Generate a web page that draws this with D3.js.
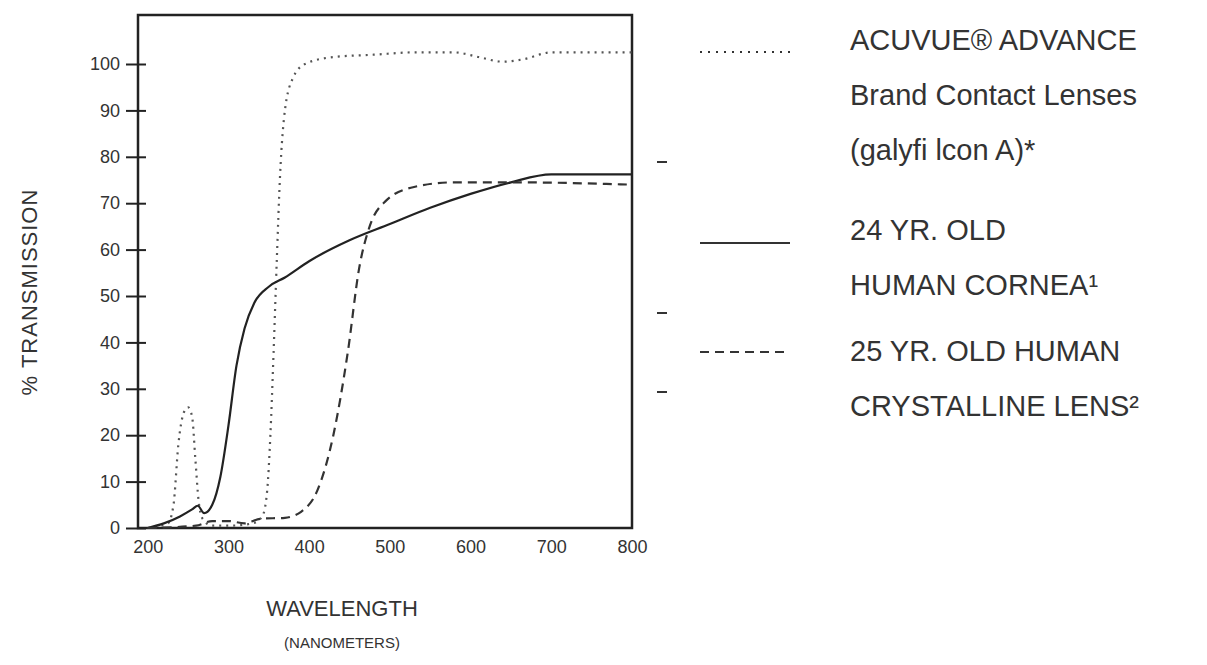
<!DOCTYPE html><html><head><meta charset="utf-8">
<script src="https://cdn.jsdelivr.net/npm/d3@7"></script>
<style>body{margin:0;background:#fff}text{font-family:"Liberation Sans",Arial,sans-serif;fill:#333}</style></head><body>
<svg id="c" width="1207" height="665"></svg>
<script>
const xTicks=[200,300,400,500,600,700,800];
const yTicks=[0,10,20,30,40,50,60,70,80,90,100];
const acuvue=[[200,0],[225,1],[232,5],[238,18],[245,25],[250,26],[255,24],[259,15],[263,6],[268,2],[280,0.5],[300,0.5],[330,1],[342,2.5],[348,8],[352,20],[356,38],[360,58],[364,76],[370,90],[380,97],[395,100],[430,101.5],[480,102],[530,102.5],[580,102.5],[610,101.5],[640,100.5],[665,101],[700,102.5],[800,102.5]];
const cornea=[[200,0],[220,1],[240,2.5],[255,4],[262,4.8],[270,3.2],[280,5],[290,11],[300,22],[310,35],[320,43],[332,48.5],[350,52],[370,54],[400,57.5],[450,62],[500,65.5],[550,69],[600,72],[650,74.5],[700,76.2],[800,76.2]];
const lens=[[200,0],[260,0.5],[280,1.5],[300,1.5],[320,1],[340,2],[370,2.2],[390,3.5],[410,8],[430,20],[448,38],[462,56],[475,65],[495,70.5],[530,73.5],[580,74.5],[650,74.5],[800,74]];
const legend=[{t:["ACUVUE® ADVANCE","Brand Contact Lenses","(galyfi lcon A)*"],y:42,ly:52,d:"2,6"},
{t:["24 YR. OLD","HUMAN CORNEA¹"],y:232,ly:243,d:null},
{t:["25 YR. OLD HUMAN","CRYSTALLINE LENS²"],y:353,ly:352,d:"9,6"}];
const svg=d3.select("#c");
const x=d3.scaleLinear().domain([188,800]).range([138,632]);
const y=d3.scaleLinear().domain([0,100]).range([528,64]);
svg.append("rect").attr("x",138).attr("y",15).attr("width",494).attr("height",513).attr("fill","none").attr("stroke","#222").attr("stroke-width",2.5);
const ya=svg.append("g").attr("transform","translate(138,0)").call(d3.axisLeft(y).tickValues(yTicks).tickSize(0).tickPadding(18));
ya.select(".domain").remove();
ya.selectAll(".tick line").attr("x1",-12).attr("x2",8).attr("stroke","#222").attr("stroke-width",2);
ya.selectAll("text").style("font-size","18px");
const xa=svg.append("g").attr("transform","translate(0,528)").call(d3.axisBottom(x).tickValues(xTicks).tickSize(0).tickPadding(12));
xa.select(".domain").remove();xa.selectAll("text").style("font-size","18px");
const line=d3.line().x(d=>x(d[0])).y(d=>y(d[1])).curve(d3.curveMonotoneX);
[[acuvue,"2,5",2.2,"#555"],[cornea,null,2.2,"#222"],[lens,"9,6",2.2,"#333"]].forEach(([dt,da,w,c])=>{
 svg.append("path").attr("d",line(dt)).attr("fill","none").attr("stroke",c).attr("stroke-width",w).attr("stroke-dasharray",da);});
legend.forEach(l=>{
 svg.append("line").attr("x1",700).attr("x2",790).attr("y1",l.ly).attr("y2",l.ly).attr("stroke","#333").attr("stroke-width",2).attr("stroke-dasharray",l.d);
 l.t.forEach((s,i)=>svg.append("text").attr("x",850).attr("y",l.y+i*55).style("font-size","29px").attr("dominant-baseline","middle").text(s));
});
[162,313,392].forEach(v=>svg.append("line").attr("x1",657).attr("x2",667).attr("y1",v).attr("y2",v).attr("stroke","#333").attr("stroke-width",2));
svg.append("text").attr("transform","translate(37,292) rotate(-90)").attr("text-anchor","middle").style("font-size","22px").style("letter-spacing","1px").text("% TRANSMISSION");
svg.append("text").attr("x",342).attr("y",616).attr("text-anchor","middle").style("font-size","22px").text("WAVELENGTH");
svg.append("text").attr("x",342).attr("y",648).attr("text-anchor","middle").style("font-size","15px").text("(NANOMETERS)");
</script></body></html>
